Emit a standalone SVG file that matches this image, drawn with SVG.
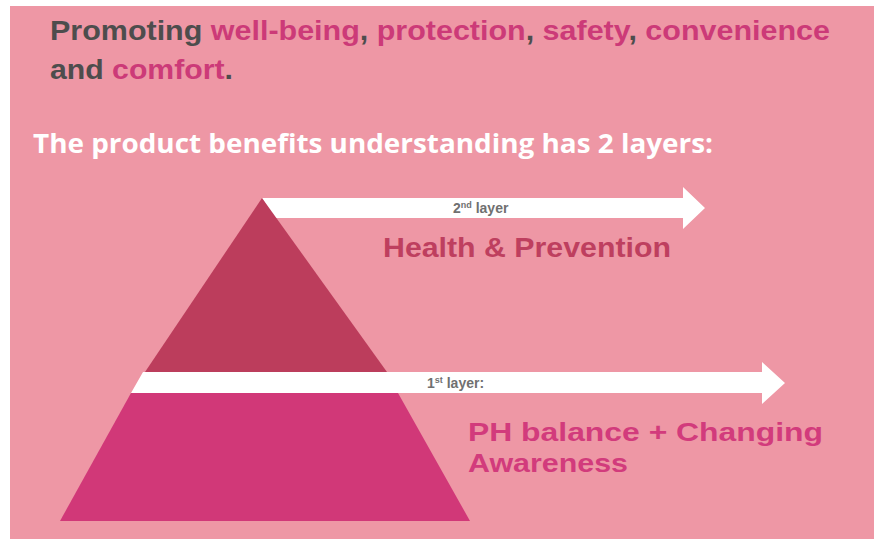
<svg xmlns="http://www.w3.org/2000/svg" width="874" height="539" viewBox="0 0 874 539">
<style>
.hd{font-family:"Liberation Sans",Arial,sans-serif;font-weight:bold;font-size:28px;fill:#4D4D4D}
.pk{fill:#CC3A78}
.sub{font-family:"Open Sans","Liberation Sans",sans-serif;font-weight:bold;font-size:27px;fill:#FFFFFF}
.lay{font-family:"Liberation Sans",Arial,sans-serif;font-weight:bold;font-size:14px;fill:#707070}
.big{font-family:"Liberation Sans",Arial,sans-serif;font-weight:bold;font-size:28px}
.ph{font-family:"Liberation Sans",Arial,sans-serif;font-weight:bold;font-size:26px;fill:#D23B7C}
</style>
<rect x="0" y="0" width="874" height="539" fill="#FFFFFF"/>
<rect x="10" y="6" width="864" height="533" fill="#EE97A5"/>
<g id="title">
<text class="hd" x="50" y="40" textLength="780" lengthAdjust="spacingAndGlyphs">Promoting <tspan class="pk">well-being</tspan>, <tspan class="pk">protection</tspan>, <tspan class="pk">safety</tspan>, <tspan class="pk">convenience</tspan></text>
<text class="hd" x="50" y="79" textLength="183" lengthAdjust="spacingAndGlyphs">and <tspan class="pk">comfort</tspan>.</text>
</g>
<text class="sub" x="33" y="153" textLength="680" lengthAdjust="spacingAndGlyphs">The product benefits understanding has 2 layers:</text>
<g id="connectors">
<polygon id="arrow2" points="262,198 683,198 683,187 705,208 683,229 683,218 275,218" fill="#FFFFFF"/>
<polygon id="arrow1" points="143,372 762,372 762,362 785,383 762,404 762,393 131,393" fill="#FFFFFF"/>
</g>
<g id="layer2">
<polygon points="262,198 387,372 145,372" fill="#BC3D5C"/>
<text class="lay" x="453" y="213">2<tspan font-size="9" dy="-5">nd</tspan><tspan dy="5"> layer</tspan></text>
<text class="big" x="383" y="257" fill="#BE3F5F" textLength="288" lengthAdjust="spacingAndGlyphs">Health &amp; Prevention</text>
</g>
<g id="layer1">
<polygon points="131,393 398,393 470,521 60,521" fill="#D13878"/>
<text class="lay" x="427" y="388">1<tspan font-size="9" dy="-5">st</tspan><tspan dy="5"> layer:</tspan></text>
<text class="ph" x="468" y="441" textLength="355" lengthAdjust="spacingAndGlyphs">PH balance + Changing</text>
<text class="ph" x="468" y="472" textLength="160" lengthAdjust="spacingAndGlyphs">Awareness</text>
</g>
</svg>
